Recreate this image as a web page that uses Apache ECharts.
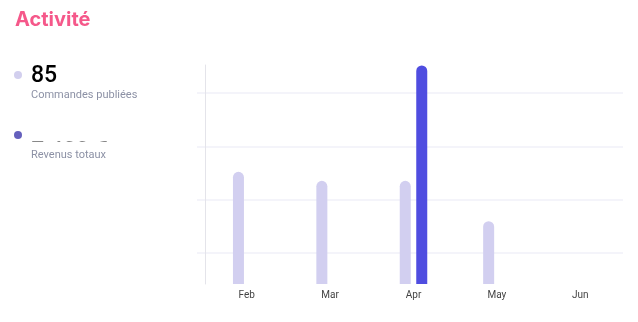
<!DOCTYPE html>
<html><head><meta charset="utf-8">
<script src="https://cdn.jsdelivr.net/npm/echarts@6/dist/echarts.min.js"></script>
<style>html,body{margin:0;padding:0;background:#fff}#c{width:638px;height:322px}</style>
</head><body><div id="c"></div>
<script>
const months = ['Feb', 'Mar', 'Apr', 'May', 'Jun'];
const commandes = [25, 23, 23, 14, 0];
const revenus = [0, 0, 2450, 0, 0];
const totalCommandes = '85';
const totalRevenus = '2 450 €';
const titleText = 'Activité';
const label1 = 'Commandes publiées';
const label2 = 'Revenus totaux';

const chart = echarts.init(document.getElementById('c'), null, {renderer: 'canvas'});
chart.setOption({
  animation: false,
  graphic: [
    {type: 'text', left: 15, top: 10, style: {text: titleText, font: 'bold 20px Inter, "Open Sans", sans-serif', fill: '#f5588a'}},
    {type: 'circle', shape: {cx: 18, cy: 75, r: 4}, style: {fill: '#d2cfee'}},
    {type: 'text', left: 31, top: 65, style: {text: totalCommandes, font: '500 23px Roboto, sans-serif', fill: '#000'}},
    {type: 'text', left: 31, top: 90, style: {text: label1, font: '11px Roboto, sans-serif', fill: '#8c91a5'}},
    {type: 'circle', shape: {cx: 18, cy: 135, r: 4}, style: {fill: '#6560bd'}},
    {type: 'text', left: 31, top: 125, z: 1, style: {text: totalRevenus, font: '500 23px Roboto, sans-serif', fill: '#888'}},
    {type: 'rect', shape: {x: 28, y: 116, width: 120, height: 25}, z: 2, style: {fill: '#fff'}},
    {type: 'text', left: 31, top: 150, style: {text: label2, font: '11px Roboto, sans-serif', fill: '#8c91a5'}}
  ],
  grid: [
    {left: 205, right: 16, top: 65, bottom: 38},
    {left: 197, right: 15, top: 93, bottom: 69}
  ],
  xAxis: [
    {type: 'category', gridIndex: 0, data: months,
     axisLine: {show: false}, axisTick: {show: false},
     axisLabel: {color: '#444', fontSize: 10, margin: 6, fontFamily: 'Roboto, sans-serif'}},
    {type: 'value', gridIndex: 1, show: false}
  ],
  yAxis: [
    {type: 'value', gridIndex: 0, min: 0, max: 48.8,
     axisLine: {show: true, lineStyle: {color: '#e4e4ea', width: 1}},
     axisLabel: {show: false}, axisTick: {show: false}, splitLine: {show: false}},
    {type: 'value', gridIndex: 0, min: 0, max: 2455, show: false, splitLine: {show: false}},
    {type: 'value', gridIndex: 1, min: 0, max: 3, interval: 1,
     axisLine: {show: false}, axisLabel: {show: false}, axisTick: {show: false},
     splitLine: {show: true, lineStyle: {color: '#f4f4fa', width: 2}}}
  ],
  series: [
    {type: 'bar', name: label1, xAxisIndex: 0, yAxisIndex: 0, data: commandes,
     barWidth: 11, barGap: '50%', itemStyle: {color: '#d2cff0', borderRadius: [6, 6, 0, 0]}},
    {type: 'bar', name: label2, xAxisIndex: 0, yAxisIndex: 1, data: revenus,
     barWidth: 11, barGap: '50%', itemStyle: {color: '#4f4de0', borderRadius: [6, 6, 0, 0]}}
  ]
});
</script></body></html>
